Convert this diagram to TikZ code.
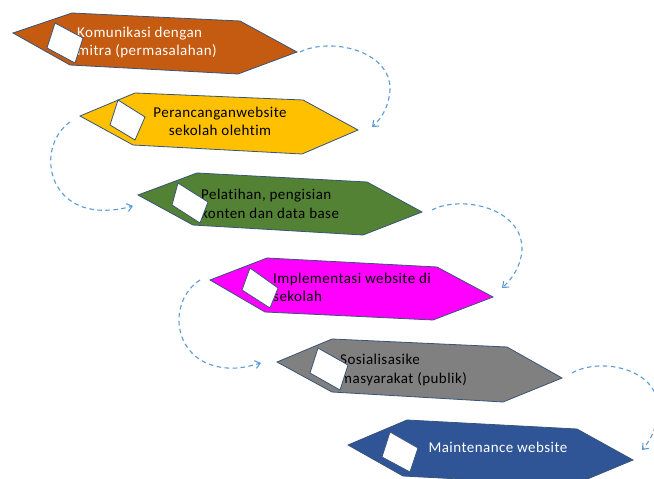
\documentclass[tikz,border=0pt]{standalone}
\usepackage{fontspec}
\setmainfont{Carlito}[LetterSpace=3, Ligatures={NoCommon}]
\usetikzlibrary{arrows.meta}
\definecolor{c1}{RGB}{197,90,17}
\definecolor{c2}{RGB}{255,192,0}
\definecolor{c3}{RGB}{84,130,53}
\definecolor{c4}{RGB}{255,0,255}
\definecolor{c5}{RGB}{128,128,128}
\definecolor{c6}{RGB}{47,85,151}
\definecolor{edgec}{RGB}{56,84,120}
\definecolor{connc}{RGB}{91,155,213}
\tikzset{
 hex/.style={draw=edgec, line width=0.8pt, line join=miter},
 sq/.style={draw=edgec, fill=white, line width=0.8pt},
 lbl/.style={inner sep=0pt, font=\fontsize{15}{18.5}\selectfont, align=left, anchor=west},
 lblc/.style={lbl, align=center, anchor=center},
 connector/.style={draw=connc, line width=1.1pt, dash pattern=on 4.5pt off 3.5pt, -{Straight Barb[length=5pt,width=8pt]}},
}
\begin{document}
\begin{tikzpicture}[x=1pt,y=-1pt]
\fill[white, use as bounding box] (0,0) rectangle (654,479);
% shape 1
\path[hex, fill=c1] (13,33) coordinate (l1) -- (72,13) -- (240,21) -- (297,52) coordinate (r1) -- (238,74) -- (70,65) -- cycle;
\node[lbl, text=white] (t1) at (77,42.5) {Komunikasi dengan\\mitra (permasalahan)};
\path[sq] (55,23) -- (83,38) -- (75,63) -- (47,48) -- cycle;
% shape 2
\path[hex, fill=c2] (80,116) coordinate (l2) -- (135,93) -- (303,100) -- (358,130) coordinate (r2) -- (302,154) -- (133,145) -- cycle;
\node[lblc] (t2) at (220,121.5) {Perancanganwebsite\\sekolah olehtim};
\path[sq] (118,100) -- (145,117) -- (135,140) -- (110,125) -- cycle;
% shape 3
\path[hex, fill=c3] (138,195) coordinate (l3) -- (197,173) -- (367,182) -- (422,212) coordinate (r3) -- (363,235) -- (193,225) -- cycle;
\node[lbl] (t3) at (201,204) {Pelatihan, pengisian\\konten dan data base};
\path[sq] (178,183) -- (208,202) -- (200,223) -- (172,205) -- cycle;
% shape 4
\path[hex, fill=c4] (210,280) coordinate (l4) -- (267,258) -- (437,267) -- (493,297) coordinate (r4) -- (433,320) -- (265,312) -- cycle;
\node[lbl] (t4) at (273,287.5) {Implementasi website di\\sekolah};
\path[sq] (250,268) -- (278,288) -- (270,308) -- (242,290) -- cycle;
% shape 5
\path[hex, fill=c5] (277,362) coordinate (l5) -- (332,339) -- (507,347) -- (562,378) coordinate (r5) -- (503,402) -- (332,392) -- cycle;
\node[lbl] (t5) at (340,370) {Sosialisasike\\masyarakat (publik)};
\path[sq] (318,348) -- (348,365) -- (340,390) -- (310,373) -- cycle;
% shape 6
\path[hex, fill=c6] (348,445) coordinate (l6) -- (407,420) -- (577,429) -- (633,460) coordinate (r6) -- (573,485) -- (403,476) -- cycle;
\node[lblc, text=white] (t6) at (498,447) {Maintenance website};
\path[sq] (390,432) -- (418,448) -- (410,472) -- (382,457) -- cycle;
% connectors
\coordinate (a1s) at (300,52);  \coordinate (a1e) at (372,127);
\coordinate (a2s) at (70,122);  \coordinate (a2e) at (133,206);
\coordinate (a3s) at (432,210); \coordinate (a3e) at (502,288);
\coordinate (a4s) at (200,280); \coordinate (a4e) at (261,363);
\coordinate (a5s) at (572,373); \coordinate (a5e) at (642,450);
\draw[connector] (a1s) .. controls (330,37) and (391,50) .. (390,90) .. controls (389,106) and (382,118) .. (a1e);
\draw[connector] (a2s) .. controls (38,145) and (45,205) .. (97,210) .. controls (110,211) and (122,209) .. (a2e);
\draw[connector] (a3s) .. controls (460,195) and (523,207) .. (522,250) .. controls (521,266) and (512,279) .. (a3e);
\draw[connector] (a4s) .. controls (166,302) and (172,364) .. (227,368) .. controls (240,369) and (250,366) .. (a4e);
\draw[connector] (a5s) .. controls (600,357) and (658,368) .. (658,408) .. controls (658,425) and (651,440) .. (a5e);
\end{tikzpicture}
\end{document}
